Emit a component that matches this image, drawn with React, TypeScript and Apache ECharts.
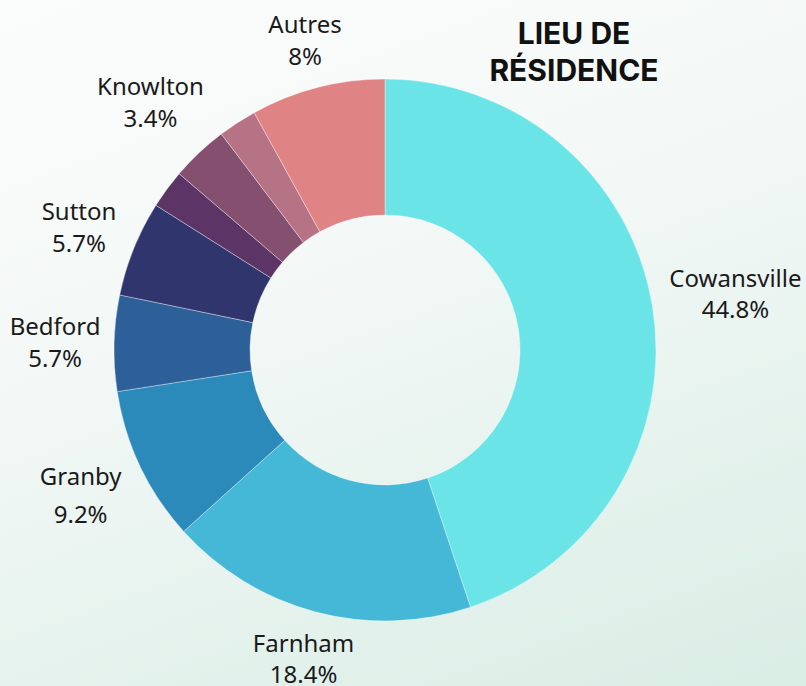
import React, { useEffect, useRef } from "react";
import * as echarts from "echarts";

const categories = ["Cowansville", "Farnham", "Granby", "Bedford", "Sutton", "", "Knowlton", "", "Autres"];
const values = [44.8, 18.4, 9.2, 5.7, 5.7, 2.3, 3.4, 2.3, 8];
const colors = ["#6be4e7", "#44b8d6", "#2c8aba", "#2d5f98", "#30356e", "#5c3566", "#855070", "#b77386", "#e08385"];
const titleText = "LIEU DE\nRÉSIDENCE";

// label styling: distance of each label's centre from the pie centre, line height
const labelDistance = [355, 319, 337, 330, 330, 0, 342, 0, 321];
const labelLineHeight = [31, 31, 38, 32, 32, 31, 32, 31, 32];
const CX = 385;
const CY = 350;

export default function App() {
  const ref = useRef<HTMLDivElement>(null);
  useEffect(() => {
    if (!ref.current) return;
    const chart = echarts.init(ref.current, null, { renderer: "svg" });
    chart.setOption({
      animation: false,
      title: {
        text: titleText,
        left: 569,
        top: 9,
        textAlign: "center",
        textStyle: {
          fontFamily: "Inter",
          fontWeight: "bold",
          fontSize: 30,
          lineHeight: 37,
          color: "#111111",
        },
      },
      series: [
        {
          type: "pie",
          center: [CX, CY],
          radius: [135, 271],
          startAngle: 90,
          clockwise: true,
          label: {
            show: true,
            position: "outside",
            formatter: (p: any) => (p.name ? `${p.name}\n${p.value}%` : ""),
            fontFamily: "Noto Sans",
            fontSize: 24,
            lineHeight: 31,
            color: "#1a1a1a",
            overflow: "none",
          },
          labelLine: { show: true, length: 12, length2: 8, lineStyle: { opacity: 0 } },
          labelLayout: (p: any) => {
            const pts = p.labelLinePoints;
            const d = labelDistance[p.dataIndex];
            if (pts && pts[0] && d) {
              const vx = pts[0][0] - CX;
              const vy = pts[0][1] - CY;
              const len = Math.sqrt(vx * vx + vy * vy) || 1;
              return {
                x: CX + (vx / len) * d,
                y: CY + (vy / len) * d,
                align: "center",
                verticalAlign: "middle",
              };
            }
            return {
              x: p.labelRect.x + p.labelRect.width / 2,
              y: p.labelRect.y + p.labelRect.height / 2,
              align: "center",
              verticalAlign: "middle",
            };
          },
          itemStyle: { borderColor: "rgba(255,255,255,0.6)", borderWidth: 0.6 },
          emphasis: { disabled: true },
          data: categories.map((c, i) => ({
            name: c,
            value: values[i],
            itemStyle: { color: colors[i] },
            label: { show: c !== "", lineHeight: labelLineHeight[i] },
          })),
        },
      ],
    });
    return () => chart.dispose();
  }, []);
  return (
    <div
      style={{
        position: "fixed",
        left: 0,
        top: 0,
        width: 806,
        height: 686,
        background: "linear-gradient(160deg, #fbfcfc 0%, #f3f8f6 40%, #d9ede5 100%)",
      }}
    >
      <div ref={ref} style={{ width: 806, height: 686 }} />
    </div>
  );
}
